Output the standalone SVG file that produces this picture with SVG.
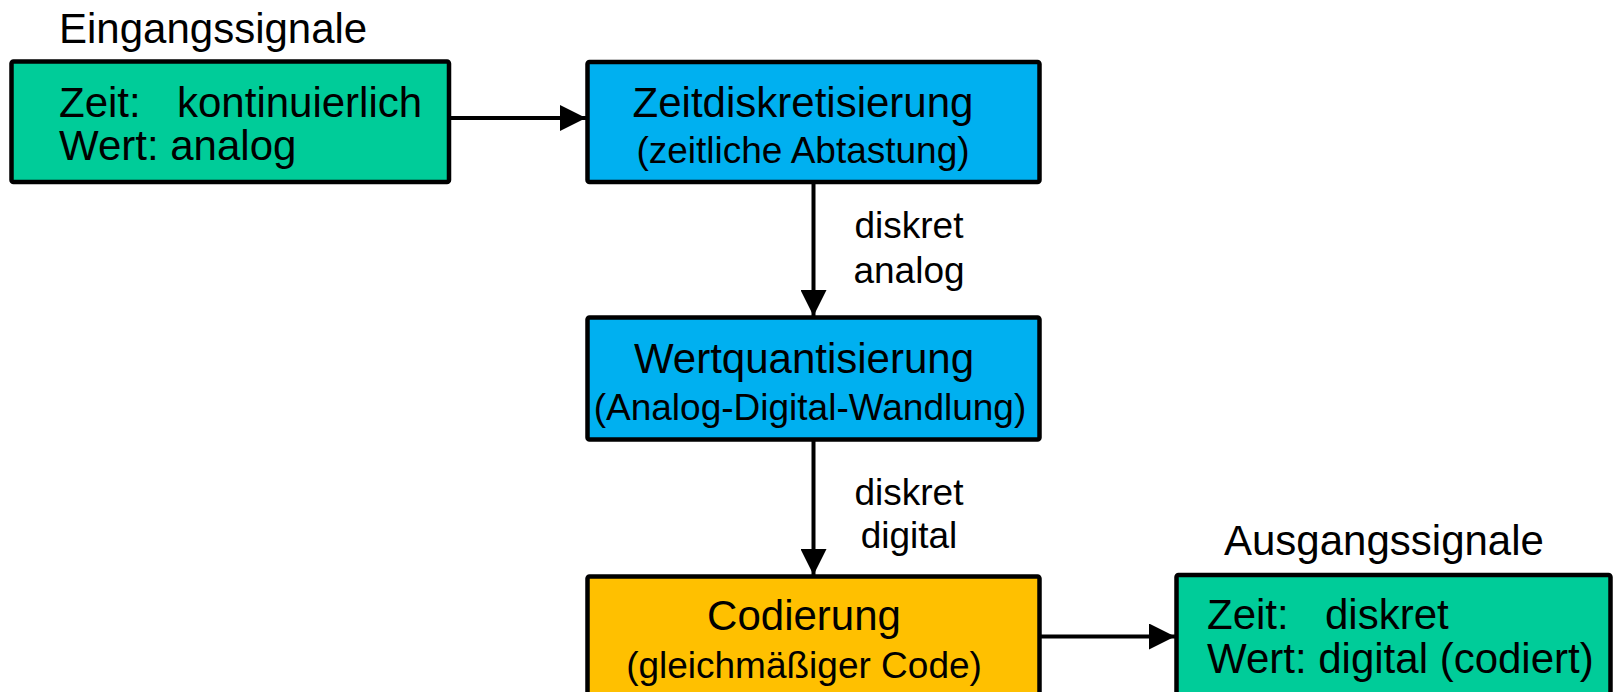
<svg xmlns="http://www.w3.org/2000/svg" width="1615" height="692" viewBox="0 0 1615 692">
<style>
.box{stroke:#000;stroke-width:4.5}
.green{fill:#00CC99}
.blue{fill:#00B0F0}
.orange{fill:#FFC000}
text{font-family:"Liberation Sans",Arial,sans-serif;fill:#000}
.big{font-size:42px}
.sub{font-size:37px}
.mid{text-anchor:middle}
.conn{stroke:#000;stroke-width:4;fill:none;marker-end:url(#ah)}
</style>
<defs>
<marker id="ah" markerUnits="userSpaceOnUse" markerWidth="26" markerHeight="26" refX="26" refY="13" orient="auto">
<path d="M0,0 L26,13 L0,26 z" fill="#000"/>
</marker>
</defs>
<rect width="1615" height="692" fill="#fff"/>
<g id="connectors">
<line class="conn" x1="449" y1="118" x2="586" y2="118"/>
<line class="conn" x1="813.5" y1="182" x2="813.5" y2="316"/>
<line class="conn" x1="813.5" y1="439.5" x2="813.5" y2="575"/>
<line class="conn" x1="1039.5" y1="636.5" x2="1175" y2="636.5"/>
</g>
<g id="eingang">
<text class="big" x="59" y="43">Eingangssignale</text>
<rect class="box green" x="11.5" y="61.5" width="437.5" height="120.5" rx="2"/>
<text class="big" x="59" y="117">Zeit:<tspan x="177">kontinuierlich</tspan></text>
<text class="big" x="59" y="160">Wert: analog</text>
</g>
<g id="zeitdiskretisierung">
<rect class="box blue" x="587.5" y="62" width="452" height="120" rx="2"/>
<text class="big mid" x="803" y="117">Zeitdiskretisierung</text>
<text class="sub mid" x="803" y="163">(zeitliche Abtastung)</text>
</g>
<g id="label1">
<text class="sub mid" x="909" y="238">diskret</text>
<text class="sub mid" x="909" y="283">analog</text>
</g>
<g id="wertquantisierung">
<rect class="box blue" x="587.5" y="317.5" width="452" height="122" rx="2"/>
<text class="big mid" x="804" y="373">Wertquantisierung</text>
<text class="sub mid" x="810" y="420">(Analog-Digital-Wandlung)</text>
</g>
<g id="label2">
<text class="sub mid" x="909" y="505">diskret</text>
<text class="sub mid" x="909" y="548">digital</text>
</g>
<g id="codierung">
<rect class="box orange" x="587.5" y="576.5" width="452" height="125" rx="2"/>
<text class="big mid" x="804" y="630">Codierung</text>
<text class="sub mid" x="804" y="678">(gleichmäßiger Code)</text>
</g>
<g id="ausgang">
<text class="big" x="1224" y="555">Ausgangssignale</text>
<rect class="box green" x="1176.5" y="575" width="434" height="126" rx="2"/>
<text class="big" x="1207" y="629">Zeit:<tspan x="1325">diskret</tspan></text>
<text class="big" x="1207" y="673">Wert: digital (codiert)</text>
</g>
</svg>
